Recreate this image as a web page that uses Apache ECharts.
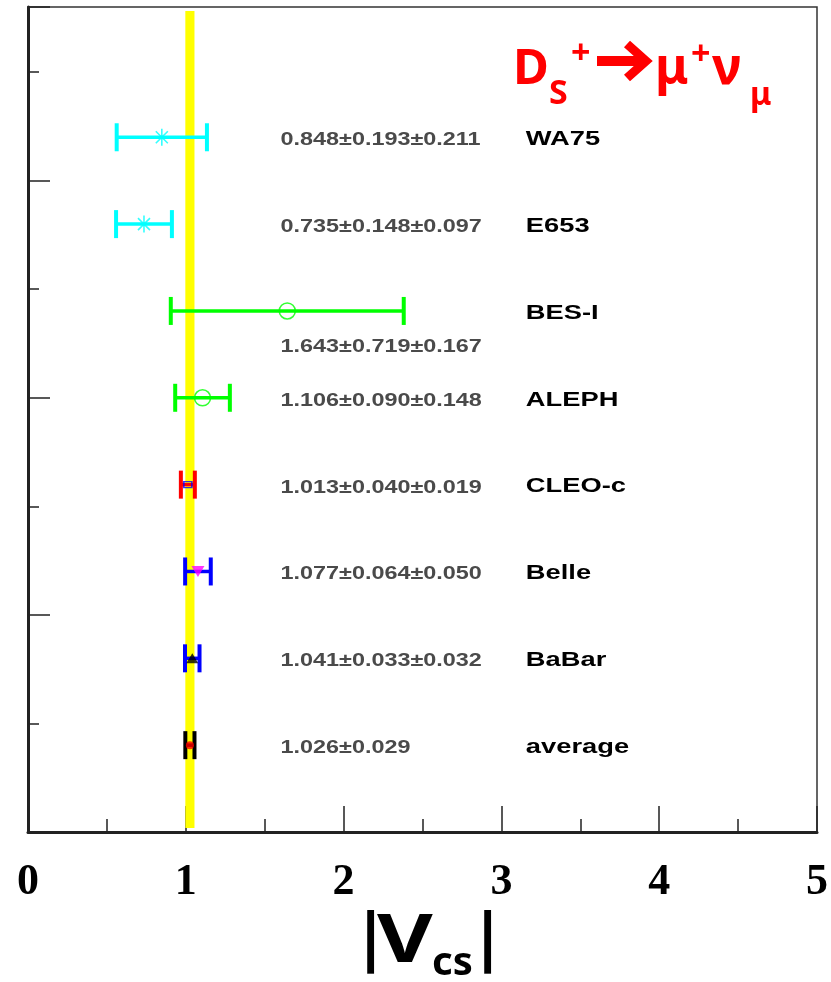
<!DOCTYPE html>
<html>
<head>
<meta charset="utf-8">
<title>|Vcs| from Ds+ → μ+ν</title>
<script src="https://cdn.jsdelivr.net/npm/echarts@6/dist/echarts.min.js"></script>
<style>
  html, body { margin: 0; padding: 0; background: #fff; }
  #chart { width: 831px; height: 982px; }
</style>
</head>
<body>
<div id="chart"></div>
<script>
// Measurements of |Vcs| from Ds+ -> mu+ nu, top row first
const experiments = ['WA75', 'E653', 'BES-I', 'ALEPH', 'CLEO-c', 'Belle', 'BaBar', 'average'];
const central     = [0.848, 0.735, 1.643, 1.106, 1.013, 1.077, 1.041, 1.026];
const statErr     = [0.193, 0.148, 0.719, 0.090, 0.040, 0.064, 0.033, 0.029];
const systErr     = [0.211, 0.097, 0.167, 0.148, 0.019, 0.050, 0.032, null];
const rowPos      = [8, 7, 6, 5, 4, 3, 2, 1];
const xTickLabels = ['0', '1', '2', '3', '4', '5'];

// Appearance of each row: error-bar colour and marker
const STAR = 'path://M10,0L10,20M0,10L20,10M2.93,2.93L17.07,17.07M2.93,17.07L17.07,2.93';
const rowStyle = [
  { bar: '#00ffff', symbol: STAR,       size: 17,       rotate: 0,   fill: 'none',        stroke: '#00ffff', bw: 1.6 },
  { bar: '#00ffff', symbol: STAR,       size: 17,       rotate: 0,   fill: 'none',        stroke: '#00ffff', bw: 1.6 },
  { bar: '#00ff00', symbol: 'circle',   size: 16,       rotate: 0,   fill: 'transparent', stroke: '#00ff00', bw: 1.6 },
  { bar: '#00ff00', symbol: 'circle',   size: 16,       rotate: 0,   fill: 'transparent', stroke: '#00ff00', bw: 1.6 },
  { bar: '#ff0000', symbol: 'rect',     size: [8, 6],   rotate: 0,   fill: 'transparent', stroke: '#0000ff', bw: 1.4 },
  { bar: '#0000ff', symbol: 'triangle', size: [13, 11], rotate: 180, fill: '#ff00ff',     stroke: '#ff00ff', bw: 0 },
  { bar: '#0000ff', symbol: 'triangle', size: [12, 10], rotate: 0,   fill: '#000000',     stroke: '#000000', bw: 0 },
  { bar: '#000000', symbol: 'circle',   size: 8,        rotate: 0,   fill: '#ff0000',     stroke: '#ff0000', bw: 0 }
];

const totalErr = central.map((c, i) => {
  const s = statErr[i], y = systErr[i];
  return y == null ? s : Math.sqrt(s * s + y * y);
});
const valueText = central.map((c, i) => {
  let t = c.toFixed(3) + '±' + statErr[i].toFixed(3);
  if (systErr[i] != null) t += '±' + systErr[i].toFixed(3);
  return t;
});

// Where the annotation columns start (axis units)
const VALUE_COL = 1.6;
const NAME_COL = 3.155;
const Y_MAX = 9.5;

const avgIdx = experiments.indexOf('average');
const bandData = [[central[avgIdx] - totalErr[avgIdx], central[avgIdx] + totalErr[avgIdx]]];

const barData = central.map((c, i) => [c - totalErr[i], c + totalErr[i], rowPos[i], i]);

const markerData = central.map((c, i) => ({
  value: [c, rowPos[i]],
  symbol: rowStyle[i].symbol,
  symbolSize: rowStyle[i].size,
  symbolRotate: rowStyle[i].rotate,
  itemStyle: { color: rowStyle[i].fill, borderColor: rowStyle[i].stroke, borderWidth: rowStyle[i].bw }
}));

const chart = echarts.init(document.getElementById('chart'), null, { renderer: 'canvas' });

function renderBand(params, api) {
  const top = api.coord([api.value(0), Y_MAX]);
  const bot = api.coord([api.value(1), 0]);
  return {
    type: 'rect',
    shape: { x: top[0], y: top[1] + 4, width: bot[0] - top[0], height: bot[1] - top[1] - 8 },
    style: { fill: '#ffff00' }
  };
}

function renderBar(params, api) {
  const i = api.value(3);
  const row = api.value(2);
  const lo = api.coord([api.value(0), row]);
  const hi = api.coord([api.value(1), row]);
  const col = rowStyle[i].bar;
  const cap = 14;
  const valPos = api.coord([VALUE_COL, row]);
  const namePos = api.coord([NAME_COL, row]);
  // value text drops below the bar when the bar runs into its column
  const valDy = api.value(1) > VALUE_COL - 0.1 ? 36 : 3;
  return {
    type: 'group',
    children: [
      { type: 'line', shape: { x1: lo[0], y1: lo[1], x2: hi[0], y2: hi[1] },
        style: { stroke: col, lineWidth: 3.5 } },
      { type: 'line', shape: { x1: lo[0], y1: lo[1] - cap, x2: lo[0], y2: lo[1] + cap },
        style: { stroke: col, lineWidth: 4 } },
      { type: 'line', shape: { x1: hi[0], y1: hi[1] - cap, x2: hi[0], y2: hi[1] + cap },
        style: { stroke: col, lineWidth: 4 } },
      { type: 'text', x: valPos[0], y: valPos[1] + valDy, scaleX: 1.3,
        style: { text: valueText[i], fill: '#4a4a4a', align: 'left', verticalAlign: 'middle',
                 font: 'bold 18px "Liberation Sans", Arial, sans-serif' } },
      { type: 'text', x: namePos[0], y: namePos[1] + 2, scaleX: 1.3,
        style: { text: experiments[i], fill: '#000000', align: 'left', verticalAlign: 'middle',
                 font: 'bold 21px "Liberation Sans", Arial, sans-serif' } }
    ]
  };
}

// Text placed by its baseline (top-aligned box offset by the font's ascent)
const ASC = 0.76;
const RED = '#ff0000';
const sansBold = (s) => 'bold ' + s + 'px "Noto Sans", "Open Sans", sans-serif';
const onBaseline = (x, base, text, size, color, sx) => ({
  type: 'text', x: x, y: base - ASC * size, scaleX: sx || 1,
  style: { text: text, fill: color, font: sansBold(size), align: 'left', verticalAlign: 'top' }
});
const centred = (x, cy, text, size, color) => ({
  type: 'text', x: x, y: cy,
  style: { text: text, fill: color, font: sansBold(size), align: 'left', verticalAlign: 'middle' }
});

const option = {
  animation: false,
  backgroundColor: '#ffffff',
  grid: { left: 28, right: 14, top: 7, bottom: 150, show: true, borderColor: '#333', borderWidth: 1.5, backgroundColor: 'transparent' },
  xAxis: {
    type: 'value', min: 0, max: 5, interval: 1,
    axisLine: { show: true, onZero: false, lineStyle: { color: '#222', width: 3 } },
    axisTick: { show: true, inside: true, length: 26, lineStyle: { color: '#222', width: 1.5 } },
    minorTick: { show: true, splitNumber: 2, length: 13, lineStyle: { color: '#222', width: 1.5 } },
    splitLine: { show: false },
    axisLabel: {
      margin: 29, color: '#000', fontSize: 44, fontWeight: 'bold',
      fontFamily: '"Liberation Serif", "Times New Roman", serif',
      showMinLabel: true, showMaxLabel: true,
      formatter: (v) => xTickLabels[Math.round(v)]
    }
  },
  yAxis: [
    {
      type: 'value', min: 0, max: Y_MAX, interval: 2.5, position: 'left',
      axisLine: { show: true, onZero: false, lineStyle: { color: '#222', width: 3 } },
      axisTick: { show: true, inside: true, length: 22, lineStyle: { color: '#222', width: 1.5 } },
      axisLabel: { show: false }, splitLine: { show: false }
    },
    {
      type: 'value', min: 0, max: Y_MAX, interval: 1.25, position: 'left',
      axisLine: { show: false },
      axisTick: { show: true, inside: true, length: 11, lineStyle: { color: '#222', width: 1.5 } },
      axisLabel: { show: false }, splitLine: { show: false }
    }
  ],
  series: [
    { type: 'custom', name: 'average band', renderItem: renderBand, data: bandData, z: 1, silent: true,
      encode: { x: [0, 1] } },
    { type: 'custom', name: 'error bars', renderItem: renderBar, data: barData, z: 3, silent: true,
      encode: { x: [0, 1], y: 2 }, clip: false },
    { type: 'scatter', name: 'central values', data: markerData, z: 4, silent: true }
  ],
  graphic: [
    // decay channel
    { type: 'group', children: [
      onBaseline(513, 83, 'D', 49, RED),
      onBaseline(549, 103, 'S', 34, RED),
      centred(571, 54, '+', 34, RED),
      { type: 'polyline', shape: { points: [[597, 61], [643, 61]] },
        style: { stroke: RED, lineWidth: 10, fill: null } },
      { type: 'polyline', shape: { points: [[627, 44], [646, 61], [627, 78]] },
        style: { stroke: RED, lineWidth: 9, fill: null, lineJoin: 'miter' } },
      onBaseline(655, 83, 'μ', 50, RED),
      centred(691, 55, '+', 34, RED),
      onBaseline(712, 83, 'ν', 52, RED),
      onBaseline(750, 104, 'μ', 32, RED)
    ]},
    // axis title |Vcs|
    { type: 'group', children: [
      onBaseline(353, 957, '|', 64, '#000'),
      onBaseline(377, 960, 'V', 66, '#000', 1.3),
      onBaseline(432, 974, 'cs', 40, '#000'),
      onBaseline(470, 957, '|', 64, '#000')
    ]}
  ]
};

chart.setOption(option);
</script>
</body>
</html>
